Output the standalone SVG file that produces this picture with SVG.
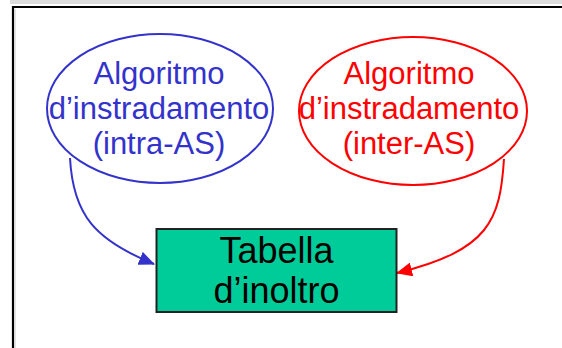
<svg xmlns="http://www.w3.org/2000/svg" width="562" height="348" viewBox="0 0 562 348">
<defs>
<style>
.t{font-family:"Liberation Sans",Arial,sans-serif;text-anchor:middle}
.blue{fill:#3333cc}
.red{fill:#ff0000}
</style>
<marker id="ab" markerWidth="16" markerHeight="14" refX="15" refY="7" orient="auto" markerUnits="userSpaceOnUse"><path d="M0,0 L16,7 L0,14 Z" fill="#3333cc"/></marker>
<marker id="ar" markerWidth="16" markerHeight="14" refX="15" refY="7" orient="auto" markerUnits="userSpaceOnUse"><path d="M0,0 L16,7 L0,14 Z" fill="#ff0000"/></marker>
</defs>
<rect width="562" height="348" fill="#ffffff"/>
<rect x="10" y="0" width="552" height="4" fill="#dcdcdc"/>
<path d="M13,348 L13,7 L562,7" fill="none" stroke="#000" stroke-width="2.2"/>
<line x1="15" y1="9" x2="15" y2="348" stroke="#cccccc" stroke-width="1"/>
<g id="connectors" fill="none" stroke-width="2">
<path d="M70,158 C73,215 95,240 154,264" stroke="#3333cc" marker-end="url(#ab)"/>
<path d="M504,159 C500,220 490,250 397,273" stroke="#ff0000" marker-end="url(#ar)"/>
</g>
<g id="intra">
<ellipse cx="160" cy="108.5" rx="113" ry="74.5" fill="none" stroke="#3333cc" stroke-width="2"/>
<text class="t blue" font-size="31" x="159" y="84">Algoritmo</text>
<text class="t blue" font-size="31" x="159" y="119">d’instradamento</text>
<text class="t blue" font-size="31" x="159" y="154">(intra-AS)</text>
</g>
<g id="inter">
<ellipse cx="413" cy="111" rx="114" ry="74" fill="none" stroke="#ff0000" stroke-width="2"/>
<text class="t red" font-size="31" x="409" y="84">Algoritmo</text>
<text class="t red" font-size="31" x="409" y="119">d’instradamento</text>
<text class="t red" font-size="31" x="409" y="154">(inter-AS)</text>
</g>
<g id="tabella">
<rect x="156.5" y="229" width="240" height="83" fill="#00cc99" stroke="#222" stroke-width="2"/>
<text class="t" font-size="36" x="276.5" y="263" fill="#000">Tabella</text>
<text class="t" font-size="36" x="276.5" y="303" fill="#000">d’inoltro</text>
</g>
</svg>
